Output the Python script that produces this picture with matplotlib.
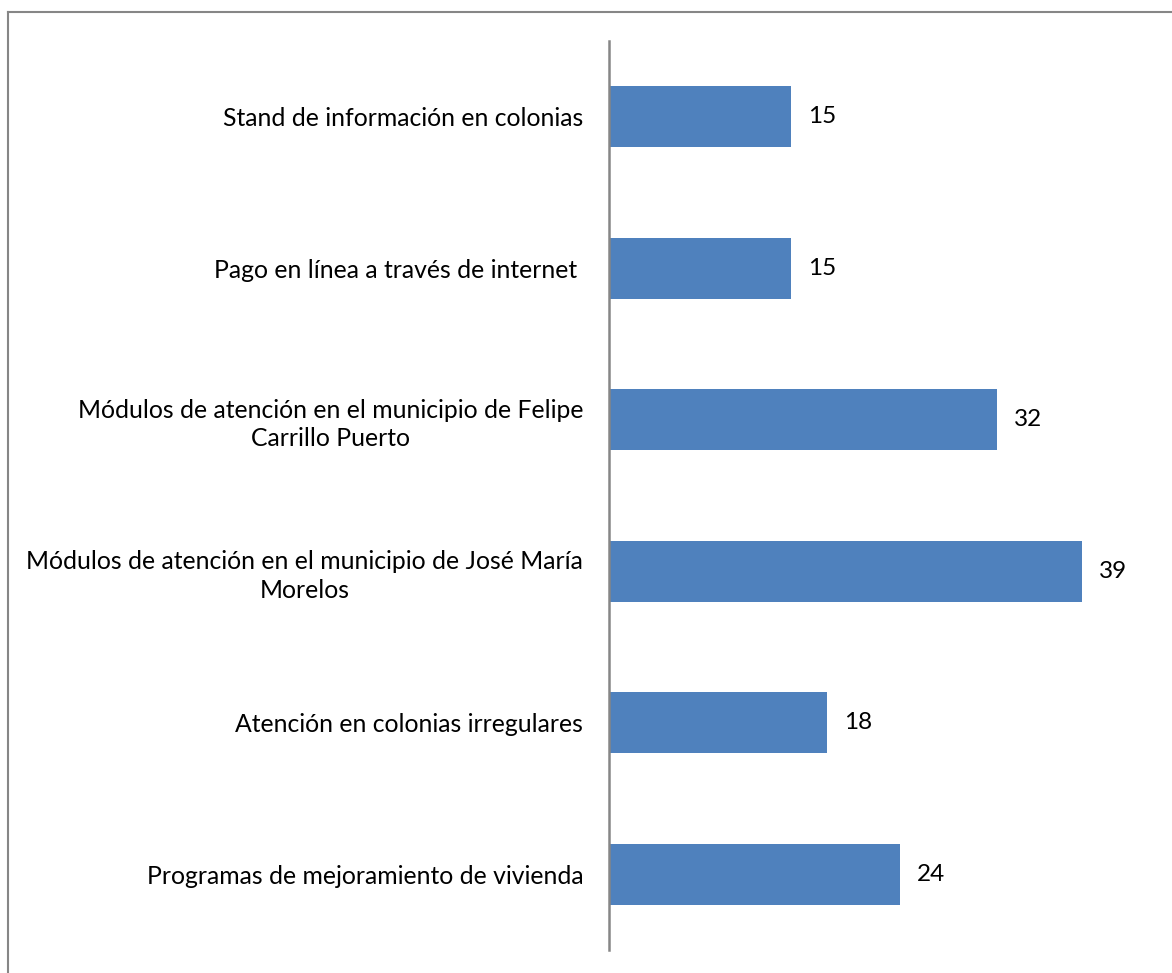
import matplotlib.pyplot as plt
from matplotlib.lines import Line2D

categorias = [
    "Stand de información en colonias",
    "Pago en línea a través de internet ",
    "Módulos de atención en el municipio de Felipe\nCarrillo Puerto",
    "Módulos de atención en el municipio de José María\nMorelos",
    "Atención en colonias irregulares",
    "Programas de mejoramiento de vivienda",
]
valores = [15, 15, 32, 39, 18, 24]

plt.rcParams['font.family'] = ['Lato', 'DejaVu Sans']

W, H = 1172, 973
fig = plt.figure(figsize=(W / 100, H / 100), dpi=100)
fig.patch.set_facecolor("white")

# area de trazado en pixeles de la figura
x0, x1 = 609, 1172
y_top, y_bot = 41, 950
ax = fig.add_axes([x0 / W, 1 - y_bot / H, (x1 - x0) / W, (y_bot - y_top) / H])

pos = list(range(len(categorias)))
ax.barh(pos, valores, height=0.4, color="#4F81BD", edgecolor="none")
ax.set_ylim(len(categorias) - 0.5, -0.5)
ax.set_xlim(0, (x1 - x0) / 12.13)

for p, v in zip(pos, valores):
    ax.text(v + 1.4, p, str(v), va="center", ha="left", fontsize=17.5, color="black")

ax.set_yticks(pos)
ax.set_yticklabels(categorias, fontsize=17.8, multialignment="center", linespacing=1.3)
ax.tick_params(axis="y", length=0, pad=18.5)
ax.set_xticks([])

for s in ["top", "right", "bottom"]:
    ax.spines[s].set_visible(False)
ax.spines["left"].set_color("#868686")
ax.spines["left"].set_linewidth(1.8)

# marco del grafico (izquierda y arriba)
borde = "#868686"
fig.add_artist(Line2D([7.5 / W, 7.5 / W], [0, 1 - 12 / H], transform=fig.transFigure, color=borde, lw=1.5))
fig.add_artist(Line2D([7.5 / W, 1], [1 - 12 / H, 1 - 12 / H], transform=fig.transFigure, color=borde, lw=1.5))

plt.savefig("out.png", dpi=100)
